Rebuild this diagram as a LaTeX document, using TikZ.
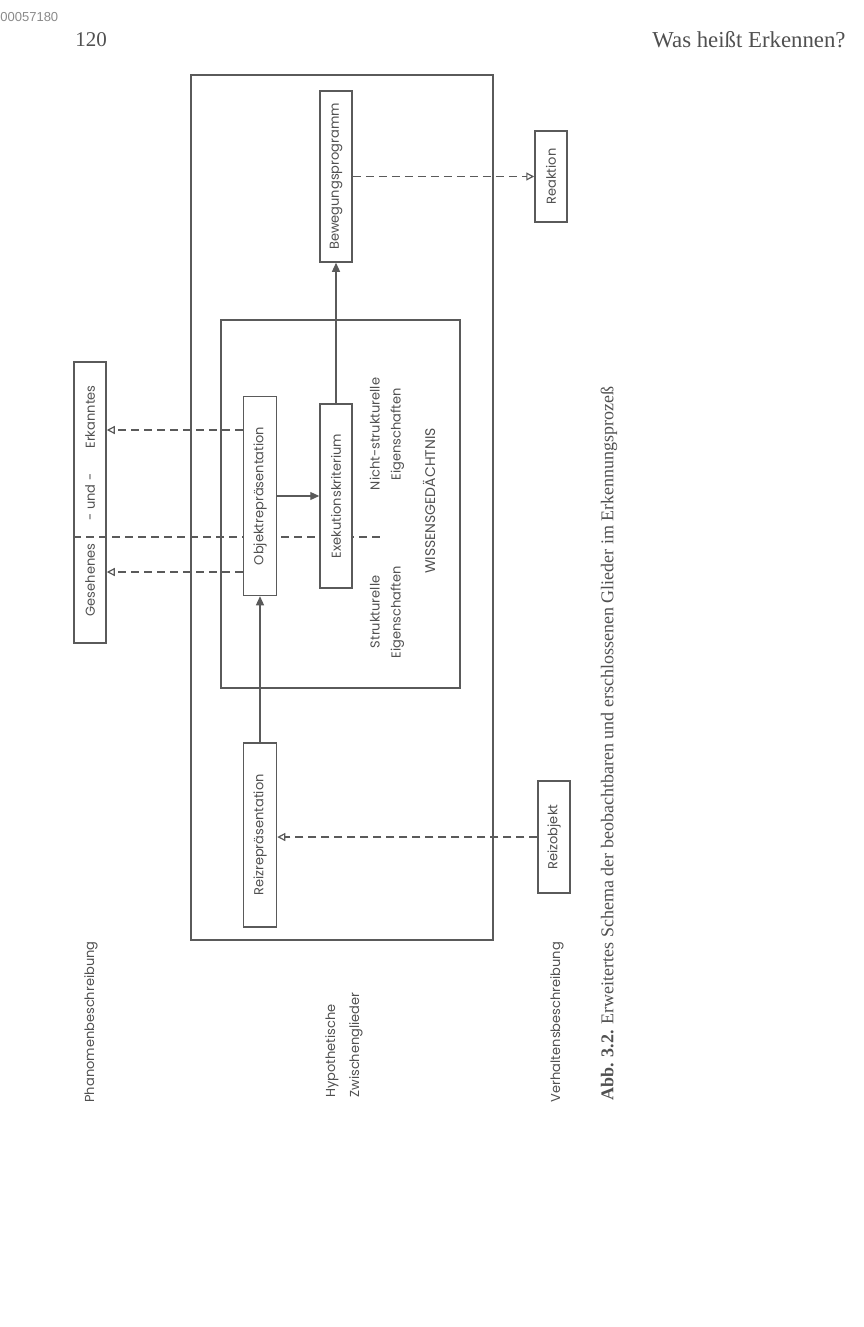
\documentclass[tikz,border=0pt]{standalone}
\usepackage{fontspec}
\setmainfont{Liberation Serif}
\newfontfamily\planfont{Poppins}
\newfontfamily\idfont{Liberation Sans}
\usepackage{tikz}
\usetikzlibrary{arrows.meta}
\definecolor{pgray}{HTML}{505050}
\definecolor{pline}{HTML}{5A5A5A}
\definecolor{plight}{HTML}{8A8A8A}

\begin{document}
\begin{tikzpicture}[x=0.5pt, y=-0.5pt, font=\planfont\fontsize{6.5}{8}\selectfont,
    kasten/.style={draw=pline, line width=0.75pt, fill=white, rotate=90, inner sep=0pt,
      minimum height=16pt, text=pgray},
    schrift/.style={rotate=90, text=pgray, inner sep=0pt},
    fluss/.style={pline, line width=0.6pt, -{Triangle[length=4.5pt, width=4pt]}},
    strich/.style={pline, line width=0.6pt, dash pattern=on 4pt off 2.5pt},
    blick/.style={strich, -{Triangle[open, length=4pt, width=4pt]}}]
  \useasboundingbox (0,0) rectangle (863,1327);
  \node[anchor=west, font=\idfont\fontsize{6.5}{7}\selectfont, text=plight, inner sep=0pt] (nummer) at (0,17) {00057180};
  \node[anchor=west, font=\rmfamily\fontsize{10.5}{13}\selectfont, text=pgray, inner sep=0pt] (seite) at (75,40) {120};
  \node[anchor=east, font=\rmfamily\fontsize{11.4}{13}\selectfont, text=pgray, inner sep=0pt] (titel) at (846,40) {Was heißt Erkennen?};

  \draw[pline, line width=0.9pt] (191,75) rectangle (493,940);
  \draw[pline, line width=0.8pt] (221,320) rectangle (460,688);

  \node[kasten, fill=none, minimum width=140.5pt] (gesehen) at (90,502.5) {};
  \node[schrift] (erkannt) at (90,417) {Erkanntes};
  \node[schrift] (und) at (90,497) {- und -};
  \node[schrift] (gesehn) at (90,580) {Gesehenes};
  \coordinate (grenze) at (385,537);
  \draw[strich] (gesehen.north |- grenze) -- (grenze);

  \node[kasten, minimum width=85.5pt] (bewegung) at (336,176.5) {Bewegungsprogramm};
  \node[kasten, minimum width=45.5pt] (reaktion) at (551,176.5) {Reaktion};
  \node[kasten, minimum width=99.5pt, minimum height=16.5pt] (objekt) at (260,496) {Objektrepräsentation};
  \node[kasten, minimum width=92pt] (exekution) at (336,496) {Exekutionskriterium};
  \node[kasten, minimum width=92pt, minimum height=16.5pt] (reizrep) at (260,835) {Reizrepräsentation};
  \node[kasten, minimum width=56pt] (reizobj) at (554,837) {Reizobjekt};

  \node[schrift, align=center, font=\planfont\fontsize{6.5}{10.5}\selectfont] (nichtstr) at (387,434) {Nicht-strukturelle\\Eigenschaften};
  \node[schrift, align=center, font=\planfont\fontsize{6.5}{10.5}\selectfont] (strukt) at (387,612) {Strukturelle\\Eigenschaften};
  \node[schrift, font=\planfont\fontsize{7}{8}\selectfont] (wissen) at (429,501) {WISSENSGEDÄCHTNIS};

  \draw[fluss] (reizrep) -- (objekt);
  \draw[fluss] (objekt) -- (exekution);
  \draw[fluss] (exekution) -- (bewegung);
  \draw[blick] (bewegung.south) -- (bewegung.south -| reaktion.north);
  \draw[blick] ([yshift=33pt]objekt.north) -- ([yshift=33pt]objekt.north -| gesehen.south);
  \draw[blick] ([yshift=-38pt]objekt.north) -- ([yshift=-38pt]objekt.north -| gesehen.south);
  \draw[blick] (reizobj.north) -- (reizobj.north -| reizrep.south);

  \node[schrift] (phaenomen) at (91,1022) {Phanomenbeschreibung};
  \node[schrift, anchor=west, align=left, font=\planfont\fontsize{6.5}{12}\selectfont] (hypothese) at (344,1098) {Hypothetische\\Zwischenglieder};
  \node[schrift] (verhalten) at (557,1022) {Verhaltensbeschreibung};
  \node[schrift, anchor=west, font=\rmfamily\fontsize{9}{11}\selectfont] (legende) at (609,1101)
    {\textbf{Abb. 3.2.} Erweitertes Schema der beobachtbaren und erschlossenen Glieder im Erkennungsprozeß};
\end{tikzpicture}
\end{document}
